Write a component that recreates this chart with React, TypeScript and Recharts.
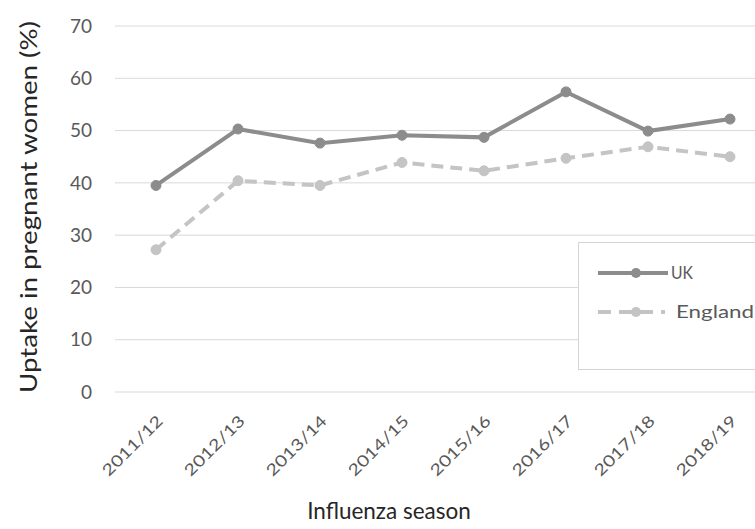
import React from "react";
import { LineChart, Line, XAxis, YAxis, CartesianGrid, Legend } from "recharts";

const seasons = ["2011/12", "2012/13", "2013/14", "2014/15", "2015/16", "2016/17", "2017/18", "2018/19"];
const ukValues = [39.5, 50.3, 47.6, 49.1, 48.7, 57.4, 49.9, 52.2];
const englandValues = [27.2, 40.4, 39.5, 43.9, 42.3, 44.7, 46.9, 45.0];
const yTicks = [0, 10, 20, 30, 40, 50, 60, 70];
const seriesOrder = ["UK", "England"];

const data = seasons.map((s, i) => ({ season: s, UK: ukValues[i], England: englandValues[i] }));

const FONT = "Lato, 'Noto Sans', sans-serif";
const UK_COLOR = "#8c8c8c";
const ENG_COLOR = "#c4c4c4";

const XTick = (props: any) => {
  const { x, y, payload } = props;
  const tx = x + 8;
  const ty = y + 22;
  return (
    <text x={tx} y={ty} textAnchor="end" fill="#595959" fontSize={16} fontFamily={FONT}
      textLength={78} lengthAdjust="spacingAndGlyphs"
      transform={`rotate(-45, ${tx}, ${ty})`}>
      {payload.value}
    </text>
  );
};

const YTitle = (props: any) => {
  const vb = props.viewBox || {};
  const cx = vb.x + 28;
  const cy = vb.y + vb.height / 2 - 2;
  return (
    <text x={cx} y={cy} textAnchor="middle" dominantBaseline="central" fill="#262626" fontSize={23} fontFamily={FONT}
      textLength={372} lengthAdjust="spacingAndGlyphs" transform={`rotate(-90, ${cx}, ${cy})`}>
      Uptake in pregnant women (%)
    </text>
  );
};

const XTitle = (props: any) => {
  const vb = props.viewBox || {};
  const cx = vb.x + 274;
  const cy = vb.y + vb.height - 10;
  return (
    <text x={cx} y={cy} textAnchor="middle" fill="#262626" fontSize={22.5} fontFamily={FONT}>
      Influenza season
    </text>
  );
};

const LegendContent = (props: any) => {
  const items = [...(props.payload || [])].sort(
    (a: any, b: any) => seriesOrder.indexOf(a.value) - seriesOrder.indexOf(b.value)
  );
  return (
    <svg width={200} height={128} style={{ display: "block" }}>
      <rect x={0.5} y={0.5} width={199} height={127} fill="#fff" stroke="#d4d4d4" strokeWidth={1} />
      {items.map((it: any, i: number) => {
        const dashed = it.value === "England";
        const cy = 31 + i * 39;
        return (
          <g key={it.value}>
            <line x1={20} y1={cy} x2={dashed ? 87 : 90} y2={cy} stroke={it.color} strokeWidth={4}
              strokeDasharray={dashed ? "13 8" : undefined} />
            <circle cx={58} cy={cy} r={5} fill={it.color} />
            <text x={dashed ? 98 : 93} y={cy + 6} fill="#595959" fontSize={17} fontFamily={FONT}
              textLength={dashed ? 78 : 22} lengthAdjust="spacingAndGlyphs">{it.value}</text>
          </g>
        );
      })}
    </svg>
  );
};

export default function App() {
  return (
    <div style={{ position: "absolute", left: 0, top: 0, width: 755, height: 529, overflow: "hidden", background: "#fff" }}>
      <LineChart width={780} height={529} data={data} margin={{ top: 26, right: 9, bottom: 0, left: 0 }}>
        <CartesianGrid vertical={false} stroke="#d9d9d9" strokeWidth={1} />
        <XAxis dataKey="season" axisLine={false} tickLine={false} height={137}
          padding={{ left: 41, right: 41 }} tick={<XTick />} interval={0}
          label={<XTitle />} />
        <YAxis domain={[0, 70]} ticks={yTicks} axisLine={false} tickLine={false} width={115}
          tickSize={0} tickMargin={23}
          tick={{ fill: "#595959", fontSize: 19, fontFamily: FONT }}
          label={<YTitle />} />
        <Legend layout="horizontal" verticalAlign="middle" align="center" content={<LegendContent />}
          wrapperStyle={{ left: 578, top: 242, width: 200, height: 128 }} />
        <Line type="linear" dataKey="UK" name="UK" stroke={UK_COLOR} strokeWidth={4}
          dot={{ r: 5, fill: UK_COLOR, stroke: UK_COLOR, strokeWidth: 1 }} isAnimationActive={false} />
        <Line type="linear" dataKey="England" name="England" stroke={ENG_COLOR} strokeWidth={4} strokeDasharray="12 7"
          dot={{ r: 5, fill: ENG_COLOR, stroke: ENG_COLOR, strokeWidth: 1, strokeDasharray: "" }} isAnimationActive={false} />
      </LineChart>
    </div>
  );
}
